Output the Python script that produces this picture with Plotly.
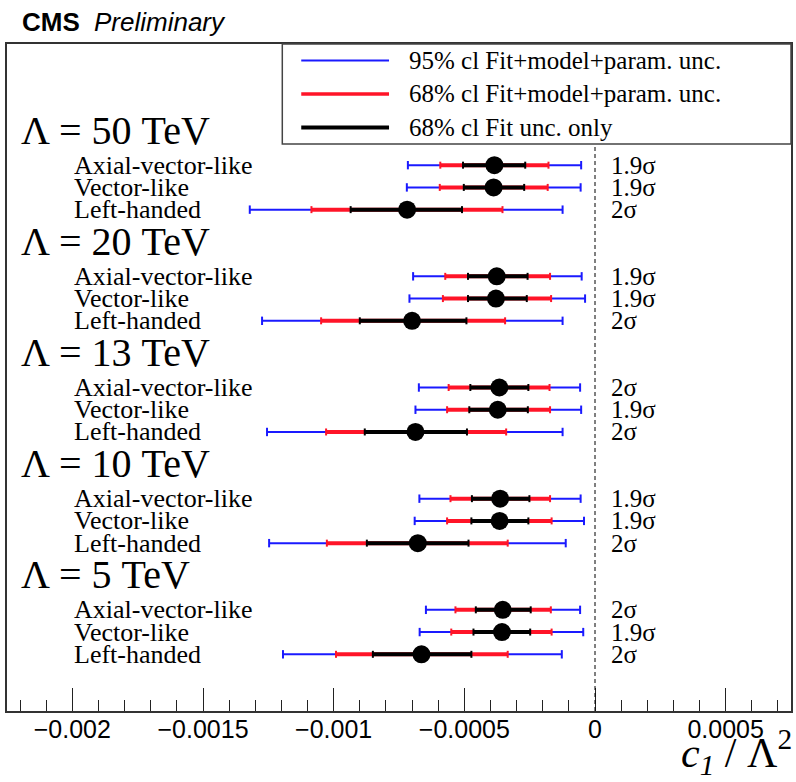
import plotly.graph_objects as go

# ---------------- data ----------------
groups = ["Λ = 50 TeV", "Λ = 20 TeV", "Λ = 13 TeV", "Λ = 10 TeV", "Λ = 5 TeV"]
models = ["Axial-vector-like", "Vector-like", "Left-handed"]
SCALE = 1e-4  # values below are in units of 1e-4

center = [[-3.85, -3.88, -7.19], [-3.76, -3.79, -7.00], [-3.66, -3.72, -6.87],
          [-3.63, -3.65, -6.78], [-3.53, -3.56, -6.64]]
fit_lo = [[-5.05, -5.02, -9.35], [-4.86, -4.86, -9.00], [-4.77, -4.81, -8.81],
          [-4.71, -4.73, -8.73], [-4.56, -4.65, -8.50]]
fit_hi = [[-2.67, -2.71, -5.09], [-2.58, -2.61, -4.92], [-2.55, -2.57, -4.90],
          [-2.51, -2.55, -4.84], [-2.46, -2.48, -4.73]]
cl68_lo = [[-5.92, -5.94, -10.85], [-5.73, -5.82, -10.48], [-5.60, -5.66, -10.29],
           [-5.53, -5.66, -10.26], [-5.34, -5.50, -9.91]]
cl68_hi = [[-1.78, -1.81, -3.54], [-1.72, -1.68, -3.44], [-1.74, -1.72, -3.40],
           [-1.72, -1.66, -3.34], [-1.69, -1.66, -3.34]]
cl95_lo = [[-7.16, -7.20, -13.21], [-6.96, -7.10, -12.74], [-6.74, -6.87, -12.55],
           [-6.72, -6.90, -12.47], [-6.47, -6.71, -11.94]]
cl95_hi = [[-0.53, -0.55, -1.24], [-0.51, -0.38, -1.24], [-0.57, -0.53, -1.24],
           [-0.55, -0.42, -1.12], [-0.57, -0.45, -1.27]]
signif = [["1.9σ", "1.9σ", "2σ"], ["1.9σ", "1.9σ", "2σ"], ["2σ", "1.9σ", "2σ"],
          ["1.9σ", "1.9σ", "2σ"], ["2σ", "1.9σ", "2σ"]]

legend_labels = ["95% cl Fit+model+param. unc.", "68% cl Fit+model+param. unc.", "68% cl Fit unc. only"]
tick_vals = [-0.002, -0.0015, -0.001, -0.0005, 0, 0.0005]
tick_text = ["−0.002", "−0.0015", "−0.001", "−0.0005", "0", "0.0005"]

# ---------------- layout helpers ----------------
W, H = 796, 782
ML, MR, MT, MB = 7, 3, 44, 71
PW, PH = W - ML - MR, H - MT - MB

def px(xp):
    return (xp - ML) / PW

def py(yp):
    return (H - MB - yp) / PH

BLUE = "#1a1aff"
RED = "#ff1428"
BLACK = "#000000"
SERIF = "Liberation Serif"
SANS = "Liberation Sans"

def row_y(g, k):
    return 5.45 + 5 * g + k

fig = go.Figure()

def seg_trace(lo, hi, color, width, cap):
    xs, ys = [], []
    for g in range(len(groups)):
        for k in range(len(models)):
            y = row_y(g, k)
            xs += [lo[g][k] * SCALE, hi[g][k] * SCALE, None]
            ys += [y, y, None]
    return go.Scatter(x=xs, y=ys, mode="lines+markers",
                      line=dict(color=color, width=width),
                      marker=dict(symbol="line-ns", size=cap,
                                  line=dict(color=color, width=2)),
                      showlegend=False, hoverinfo="skip")

fig.add_trace(seg_trace(cl95_lo, cl95_hi, BLUE, 2, 6))
fig.add_trace(seg_trace(cl68_lo, cl68_hi, RED, 4, 5))
fig.add_trace(seg_trace(fit_lo, fit_hi, BLACK, 4, 5))

cx, cy = [], []
for g in range(len(groups)):
    for k in range(len(models)):
        cx.append(center[g][k] * SCALE)
        cy.append(row_y(g, k))
fig.add_trace(go.Scatter(x=cx, y=cy, mode="markers",
                         marker=dict(color="black", size=18, symbol="circle"),
                         showlegend=False, hoverinfo="skip"))

annotations = []
for g, gname in enumerate(groups):
    annotations.append(dict(x=px(19), y=row_y(g, 0) - 1.58, xref="paper", yref="y",
                            text=gname, showarrow=False, xanchor="left", yanchor="middle",
                            font=dict(family=SERIF, size=40, color="black")))
    for k, m in enumerate(models):
        annotations.append(dict(x=px(72), y=row_y(g, k), xref="paper", yref="y",
                                text=m, showarrow=False, xanchor="left", yanchor="middle",
                                font=dict(family=SERIF, size=26, color="black")))
        annotations.append(dict(x=px(611), y=row_y(g, k), xref="paper", yref="y",
                                text=signif[g][k], showarrow=False, xanchor="left",
                                yanchor="middle",
                                font=dict(family=SERIF, size=25, color="black")))

# CMS header
annotations.append(dict(x=px(20), y=py(22), xref="paper", yref="paper", text="<b>CMS</b>",
                        showarrow=False, xanchor="left", yanchor="middle",
                        font=dict(family=SANS, size=26, color="black")))
annotations.append(dict(x=px(92), y=py(22), xref="paper", yref="paper", text="<i>Preliminary</i>",
                        showarrow=False, xanchor="left", yanchor="middle",
                        font=dict(family=SANS, size=26, color="black")))
# axis title
annotations.append(dict(x=px(796), y=py(783), xref="paper", yref="paper",
                        text="<i>c</i><sub><i>1</i></sub> / Λ<sup>2</sup>",
                        showarrow=False, xanchor="right", yanchor="bottom",
                        font=dict(family=SERIF, size=42, color="black")))

shapes = []
# zero dashed line
shapes.append(dict(type="line", x0=0, x1=0, xref="x", y0=0, y1=1, yref="paper",
                   line=dict(color="black", width=1, dash="4px,3px")))
# legend box
shapes.append(dict(type="rect", x0=px(283), x1=1, y0=py(144), y1=1, xref="paper", yref="paper",
                   line=dict(color="#444444", width=1.5), fillcolor="white", layer="above"))
leg_colors = [BLUE, RED, BLACK]
leg_widths = [2, 3.5, 4]
leg_y = [60.5, 94, 127.5]
for i, lab in enumerate(legend_labels):
    shapes.append(dict(type="line", x0=px(302), x1=px(390), y0=py(leg_y[i]), y1=py(leg_y[i]),
                       xref="paper", yref="paper",
                       line=dict(color=leg_colors[i], width=leg_widths[i]), layer="above"))
    annotations.append(dict(x=px(408), y=py(leg_y[i]), xref="paper", yref="paper", text=lab,
                            showarrow=False, xanchor="left", yanchor="middle",
                            font=dict(family=SERIF, size=25, color="black")))

fig.update_layout(
    width=W, height=H,
    margin=dict(l=ML, r=MR, t=MT, b=MB),
    paper_bgcolor="white", plot_bgcolor="white",
    annotations=annotations, shapes=shapes,
    showlegend=False,
)
fig.update_xaxes(range=[-0.00225, 0.00075], tickvals=tick_vals, ticktext=tick_text,
                 ticks="inside", ticklen=23, tickwidth=1, tickcolor="#222",
                 minor=dict(ticks="inside", ticklen=11, dtick=0.0001, tick0=0,
                            tickcolor="#222", tickwidth=1, showgrid=False),
                 showline=True, linecolor="#333", linewidth=1.5, mirror=True,
                 showgrid=False, zeroline=False, ticklabelstandoff=-5,
                 tickfont=dict(family=SANS, size=25, color="black"))
fig.update_yaxes(range=[30, 0], showline=True, linecolor="#333", linewidth=1.5, mirror=True,
                 showticklabels=False, ticks="", showgrid=False, zeroline=False)

fig.write_html("out.html")
